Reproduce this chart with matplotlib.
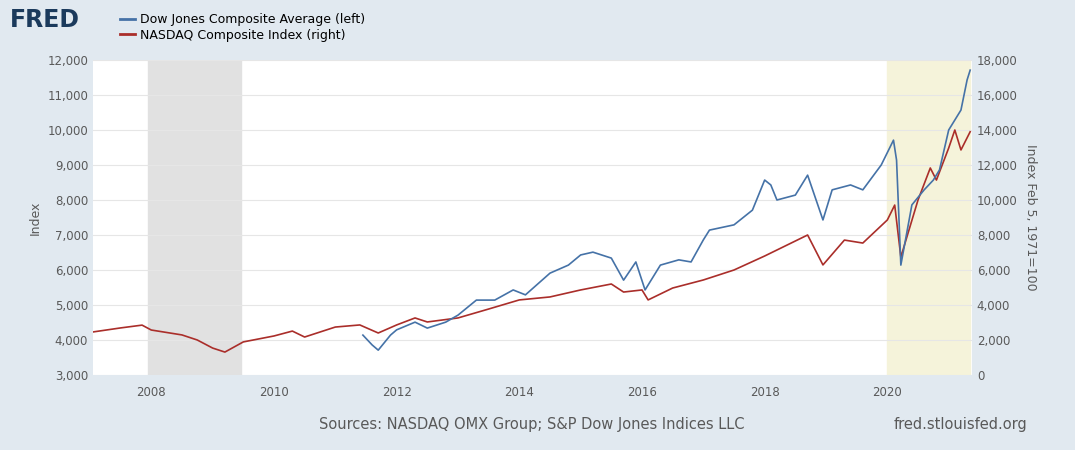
import matplotlib
matplotlib.use("Agg")
import matplotlib.pyplot as plt
from matplotlib.lines import Line2D

# NASDAQ Composite (right axis), approx. by eye
nasdaq_t = [2007.05, 2007.5, 2007.85, 2008.0, 2008.5, 2008.75, 2009.0, 2009.2, 2009.5, 2010.0,
            2010.3, 2010.5, 2011.0, 2011.4, 2011.7, 2012.0, 2012.3, 2012.5, 2013.0, 2013.5,
            2014.0, 2014.5, 2015.0, 2015.5, 2015.7, 2016.0, 2016.1, 2016.5, 2017.0, 2017.5,
            2018.0, 2018.7, 2018.95, 2019.3, 2019.6, 2020.0, 2020.12, 2020.22, 2020.5, 2020.7,
            2020.8, 2021.0, 2021.1, 2021.2, 2021.35]
nasdaq_v = [2460, 2690, 2850, 2570, 2290, 2000, 1540, 1310, 1890, 2230,
            2510, 2170, 2740, 2860, 2400, 2860, 3260, 3030, 3260, 3770,
            4290, 4460, 4860, 5200, 4740, 4860, 4290, 4970, 5430, 6000,
            6800, 8000, 6290, 7710, 7540, 8860, 9710, 6740, 10000, 11830,
            11140, 12970, 14000, 12860, 13900]

# Dow Jones Composite Average (left axis)
dow_t = [2011.45, 2011.6, 2011.7, 2011.9, 2012.0, 2012.3, 2012.5, 2012.8, 2013.0, 2013.3,
         2013.6, 2013.9, 2014.1, 2014.5, 2014.8, 2015.0, 2015.2, 2015.5, 2015.7, 2015.9,
         2016.05, 2016.3, 2016.6, 2016.8, 2017.0, 2017.1, 2017.5, 2017.8, 2018.0, 2018.1,
         2018.2, 2018.5, 2018.7, 2018.95, 2019.1, 2019.4, 2019.6, 2019.9, 2020.1, 2020.15,
         2020.22, 2020.4, 2020.6, 2020.75, 2020.85, 2021.0, 2021.2, 2021.3, 2021.35]
dow_v = [4140, 3860, 3710, 4140, 4290, 4510, 4340, 4510, 4710, 5140,
         5140, 5430, 5290, 5910, 6140, 6430, 6510, 6340, 5710, 6230,
         5430, 6140, 6290, 6230, 6860, 7140, 7290, 7710, 8570, 8430,
         8000, 8140, 8710, 7430, 8290, 8430, 8290, 9000, 9710, 9140,
         6140, 7860, 8290, 8570, 8860, 10000, 10570, 11430, 11710]

years = [2008, 2010, 2012, 2014, 2016, 2018, 2020]
recessions = [(2007.95, 2009.47), (2020.0, 2021.35)]

BG = "#e1e9f0"
TXT = "#595959"
fig = plt.figure(figsize=(10.75, 4.5), dpi=100, facecolor=BG)
ax = fig.add_axes([93 / 1075, 75 / 450, 879 / 1075, 315 / 450])
ax.set_facecolor("white")
ax2 = ax.twinx()

ax.axvspan(*recessions[0], color="#e1e1e1", zorder=0)
ax.axvspan(*recessions[1], color="#f5f3da", zorder=0)

ax2.plot(nasdaq_t, nasdaq_v, color="#aa2e2a", lw=1.2)
ax.plot(dow_t, dow_v, color="#4572a7", lw=1.2, zorder=3)
ax.set_zorder(ax2.get_zorder() + 1)
ax.patch.set_visible(False)
ax2.patch.set_visible(True)
ax2.patch.set_facecolor("white")
# move shading to ax2 so it stays behind both
for p in list(ax.patches):
    p.remove()
ax2.axvspan(*recessions[0], color="#e1e1e1", zorder=0)
ax2.axvspan(*recessions[1], color="#f5f3da", zorder=0)

ax.set_xlim(2007.05, 2021.38)
ax.set_ylim(3000, 12000)
ax2.set_ylim(0, 18000)
ax.set_yticks(range(3000, 12001, 1000))
ax2.set_yticks(range(0, 18001, 2000))
ax.set_xticks(years)
ax.yaxis.set_major_formatter(matplotlib.ticker.StrMethodFormatter("{x:,.0f}"))
ax2.yaxis.set_major_formatter(matplotlib.ticker.StrMethodFormatter("{x:,.0f}"))
ax2.grid(axis="y", color="#e6e6e6", lw=0.8)
for a in (ax, ax2):
    for s in a.spines.values():
        s.set_visible(False)
    a.tick_params(length=0, colors=TXT, labelsize=8.5)
ax.tick_params(axis="x", pad=8)
ax.set_ylabel("Index", color=TXT, fontsize=9)
ax2.set_ylabel("Index Feb 5, 1971=100", color=TXT, fontsize=9, rotation=270, labelpad=14)

fig.text(10 / 1075, 1 - 20 / 450, "FRED", fontsize=17, fontweight="bold", color="#1b3a5c", va="center")
handles = [Line2D([], [], color="#4572a7", lw=2), Line2D([], [], color="#aa2e2a", lw=2)]
fig.legend(handles, ["Dow Jones Composite Average (left)", "NASDAQ Composite Index (right)"],
           loc="upper left", bbox_to_anchor=(115 / 1075, 1 - 8 / 450), frameon=False,
           fontsize=9, handlelength=1.2, handletextpad=0.4, labelspacing=0.2, borderaxespad=0)
fig.text(532 / 1075, 1 - 424 / 450, "Sources: NASDAQ OMX Group; S&P Dow Jones Indices LLC",
         ha="center", va="center", fontsize=10.5, color=TXT)
fig.text(1027 / 1075, 1 - 424 / 450, "fred.stlouisfed.org", ha="right", va="center",
         fontsize=10.5, color=TXT)
fig.savefig("out.png", dpi=100, facecolor=BG)
